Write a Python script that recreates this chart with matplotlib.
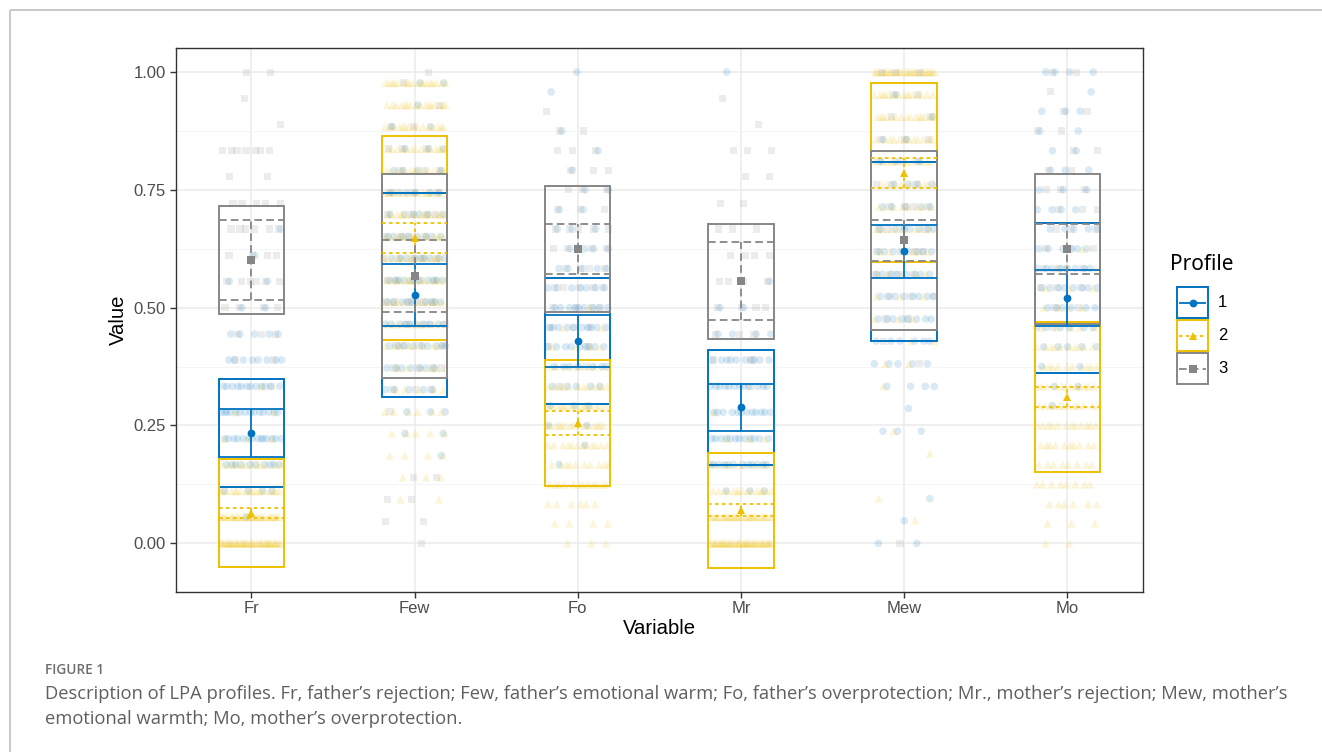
import matplotlib
matplotlib.use("Agg")
import matplotlib.pyplot as plt
from matplotlib.patches import Rectangle
from matplotlib.ticker import FixedLocator

# ---------------- data ----------------
VARIABLES = ["Fr", "Few", "Fo", "Mr", "Mew", "Mo"]
PROFILES = ["1", "2", "3"]

# profile means per variable
MEAN_1 = [0.234, 0.527, 0.429, 0.289, 0.620, 0.520]
MEAN_2 = [0.064, 0.648, 0.255, 0.070, 0.786, 0.310]
MEAN_3 = [0.601, 0.567, 0.624, 0.556, 0.643, 0.624]
# box half-height (SD) per variable
SD = [0.114, 0.217, 0.134, 0.122, 0.190, 0.159]
# inner interval half-width per profile
CI_1 = [0.051, 0.065, 0.055, 0.050, 0.056, 0.059]
CI_2 = [0.010, 0.032, 0.025, 0.013, 0.032, 0.021]
CI_3 = [0.085, 0.076, 0.053, 0.083, 0.043, 0.053]

# observed score levels per variable
LEVELS_FR = [0.000, 0.056, 0.111, 0.167, 0.222, 0.278, 0.333, 0.389, 0.444, 0.500,
             0.556, 0.611, 0.667, 0.722, 0.778, 0.833, 0.889, 0.944, 1.000]
LEVELS_FEW = [0.000, 0.047, 0.093, 0.140, 0.186, 0.233, 0.279, 0.326, 0.372, 0.419,
              0.465, 0.512, 0.558, 0.605, 0.651, 0.698, 0.744, 0.791, 0.837, 0.884,
              0.930, 0.977, 1.000]
LEVELS_FO = [0.000, 0.042, 0.083, 0.125, 0.167, 0.208, 0.250, 0.292, 0.333, 0.375,
             0.417, 0.458, 0.500, 0.542, 0.583, 0.625, 0.667, 0.708, 0.750, 0.792,
             0.833, 0.875, 0.917, 0.958, 1.000]
LEVELS_MR = [0.000, 0.056, 0.111, 0.167, 0.222, 0.278, 0.333, 0.389, 0.444, 0.500,
             0.556, 0.611, 0.667, 0.722, 0.778, 0.833, 0.889, 0.944, 1.000]
LEVELS_MEW = [0.000, 0.048, 0.095, 0.143, 0.190, 0.238, 0.286, 0.333, 0.381, 0.429,
              0.476, 0.524, 0.571, 0.619, 0.667, 0.714, 0.762, 0.810, 0.857, 0.905,
              0.952, 1.000]
LEVELS_MO = [0.000, 0.042, 0.083, 0.125, 0.167, 0.208, 0.250, 0.292, 0.333, 0.375,
             0.417, 0.458, 0.500, 0.542, 0.583, 0.625, 0.667, 0.708, 0.750, 0.792,
             0.833, 0.875, 0.917, 0.958, 1.000]

# number of respondents at each level (estimated), per profile
FR_P1 = [0, 1, 4, 10, 14, 14, 12, 8, 5, 2, 2, 1, 1, 0, 0, 0, 0, 0, 0]
FR_P2 = [45, 30, 18, 12, 3, 2, 1, 0, 0, 0, 0, 0, 0, 0, 0, 0, 0, 0, 0]
FR_P3 = [0, 0, 0, 0, 0, 0, 1, 2, 3, 4, 6, 4, 6, 5, 2, 7, 1, 1, 2]

FEW_P1 = [0, 0, 0, 0, 1, 2, 3, 5, 7, 9, 10, 10, 10, 9, 8, 6, 5, 4, 3, 2, 1, 2, 0]
FEW_P2 = [0, 0, 2, 3, 4, 5, 6, 5, 6, 8, 10, 12, 14, 15, 16, 16, 15, 14, 14, 15, 16, 18, 0]
FEW_P3 = [1, 2, 2, 2, 0, 0, 1, 3, 4, 4, 4, 5, 5, 5, 4, 4, 4, 3, 3, 2, 1, 1, 1]

FO_P1 = [0, 0, 0, 0, 1, 1, 2, 3, 5, 7, 9, 10, 9, 7, 5, 4, 3, 2, 2, 1, 1, 1, 0, 1, 1]
FO_P2 = [3, 4, 6, 12, 10, 12, 15, 15, 12, 8, 4, 2, 1, 0, 0, 0, 0, 0, 0, 0, 0, 0, 0, 0, 0]
FO_P3 = [0, 0, 0, 0, 0, 0, 0, 0, 1, 1, 2, 3, 4, 5, 4, 4, 5, 3, 3, 3, 3, 2, 1, 0, 0]

MR_P1 = [0, 0, 3, 12, 12, 12, 12, 10, 4, 2, 1, 0, 0, 0, 0, 0, 0, 0, 1]
MR_P2 = [45, 30, 15, 8, 3, 1, 0, 0, 0, 0, 0, 0, 0, 0, 0, 0, 0, 0, 0]
MR_P3 = [0, 0, 0, 0, 0, 0, 1, 2, 3, 4, 4, 4, 3, 2, 2, 3, 1, 1, 0]

MEW_P1 = [2, 1, 1, 0, 0, 3, 1, 4, 5, 6, 8, 8, 8, 8, 7, 5, 4, 3, 2, 1, 1, 0]
MEW_P2 = [0, 1, 1, 0, 1, 1, 0, 1, 2, 2, 3, 3, 5, 6, 8, 8, 10, 10, 12, 15, 15, 30]
MEW_P3 = [1, 0, 0, 0, 0, 0, 0, 0, 1, 1, 2, 3, 4, 4, 4, 4, 3, 3, 3, 2, 2, 3]

MO_P1 = [0, 0, 0, 0, 0, 0, 0, 1, 2, 2, 5, 6, 6, 8, 8, 6, 5, 4, 3, 3, 2, 2, 3, 1, 4]
MO_P2 = [2, 3, 6, 8, 8, 10, 12, 12, 12, 10, 10, 5, 4, 3, 2, 1, 0, 0, 0, 0, 0, 0, 0, 0, 0]
MO_P3 = [0, 0, 0, 0, 0, 0, 0, 0, 0, 0, 0, 1, 2, 3, 4, 3, 3, 3, 3, 2, 2, 2, 2, 1, 2]

Y_TICKS = [0.00, 0.25, 0.50, 0.75, 1.00]
Y_TICK_LABELS = ["0.00", "0.25", "0.50", "0.75", "1.00"]

CAPTION_LABEL = "FIGURE 1"
CAPTION_LINE_1 = ("Description of LPA profiles. Fr, father\u2019s rejection; Few, father\u2019s emotional warm; "
                  "Fo, father\u2019s overprotection; Mr., mother\u2019s rejection; Mew, mother\u2019s")
CAPTION_LINE_2 = "emotional warmth; Mo, mother\u2019s overprotection."

# ---------------- assemble ----------------
MEANS = [MEAN_1, MEAN_2, MEAN_3]
CIS = [CI_1, CI_2, CI_3]
LEVELS = [LEVELS_FR, LEVELS_FEW, LEVELS_FO, LEVELS_MR, LEVELS_MEW, LEVELS_MO]
COUNTS = [
    [FR_P1, FEW_P1, FO_P1, MR_P1, MEW_P1, MO_P1],
    [FR_P2, FEW_P2, FO_P2, MR_P2, MEW_P2, MO_P2],
    [FR_P3, FEW_P3, FO_P3, MR_P3, MEW_P3, MO_P3],
]

COLORS = ["#0073C2", "#EFC000", "#868686"]
MARKERS = ["o", "^", "s"]
JIT_SIZES = [30, 36, 26]
plt.rcParams["lines.scale_dashes"] = False
DASHES = [None, (2.6, 2.4), (5.5, 3.0)]

W, H, DPI = 1322, 752, 100
fig = plt.figure(figsize=(W / DPI, H / DPI), dpi=DPI)
fig.patch.set_facecolor("white")

px_l, px_r, px_t, px_b = 175.5, 1143, 48, 591.7
ax = fig.add_axes([px_l / W, 1 - px_b / H, (px_r - px_l) / W, (px_b - px_t) / H])
ax.set_xlim(0.535, 6.464)
ax.set_ylim(-0.1027, 1.0511)
ax.set_facecolor("white")

FONT = ["Liberation Sans", "DejaVu Sans"]

# grid
ax.yaxis.set_major_locator(FixedLocator(Y_TICKS))
ax.yaxis.set_minor_locator(FixedLocator([0.125, 0.375, 0.625, 0.875]))
ax.set_yticklabels(Y_TICK_LABELS)
xs = list(range(1, len(VARIABLES) + 1))
ax.set_xticks(xs)
ax.set_xticklabels(VARIABLES)
ax.grid(True, which="major", color="#EBEBEB", lw=1.1, zorder=0)
ax.grid(True, which="minor", axis="y", color="#F4F4F4", lw=0.6, zorder=0)
ax.set_axisbelow(True)
ax.tick_params(axis="both", which="major", direction="out", length=4, width=1.0,
               color="#333333", labelcolor="#4D4D4D", labelsize=12, pad=3)
ax.tick_params(axis="y", which="minor", length=0)
for lab in ax.get_xticklabels() + ax.get_yticklabels():
    lab.set_fontfamily(FONT)
for sp in ax.spines.values():
    sp.set_color("#333333")
    sp.set_linewidth(1.0)
ax.set_xlabel("Variable", fontsize=14.6, family=FONT, color="black", labelpad=2)
ax.set_ylabel("Value", fontsize=14.6, family=FONT, color="black", labelpad=4)

# jittered raw points (deterministic spread within the band)
GOLD = 0.6180339887
for p in range(3):
    jx, jy = [], []
    for vi in range(len(VARIABLES)):
        for li, (lev, cnt) in enumerate(zip(LEVELS[vi], COUNTS[p][vi])):
            for k in range(cnt):
                frac = (k * GOLD + li * 0.4142 + vi * 0.2718 + p * 0.1732) % 1.0
                jx.append(xs[vi] + (frac - 0.5) * 0.38)
                jy.append(lev)
    ax.scatter(jx, jy, s=JIT_SIZES[p], marker=MARKERS[p], color=COLORS[p],
               alpha=0.15, edgecolors="none", zorder=2)

HALF = 0.2
# boxes (mean +/- SD)
for p in range(3):
    for vi in range(len(VARIABLES)):
        m = MEANS[p][vi]
        ax.add_patch(Rectangle((xs[vi] - HALF, m - SD[vi]), 2 * HALF, 2 * SD[vi],
                               fill=False, ec=COLORS[p], lw=1.4, zorder=3,
                               joinstyle="miter"))
# inner intervals
for p in range(3):
    for vi in range(len(VARIABLES)):
        m, c, x = MEANS[p][vi], CIS[p][vi], xs[vi]
        kw = dict(color=COLORS[p], lw=1.3, zorder=4, solid_capstyle="butt",
                  dash_capstyle="butt")
        segs = [([x - HALF, x + HALF], [m - c, m - c]),
                ([x - HALF, x + HALF], [m + c, m + c]),
                ([x, x], [m - c, m + c])]
        for sx, sy in segs:
            ln, = ax.plot(sx, sy, **kw)
            if DASHES[p] is not None:
                ln.set_dashes(DASHES[p])
# means
for p in range(3):
    ax.plot(xs, MEANS[p], linestyle="none", marker=MARKERS[p], color=COLORS[p],
            markersize=5.6 if p != 1 else 6.4, markeredgewidth=0, zorder=5)

# ---------------- overlay: legend, caption, border ----------------
ov = fig.add_axes([0, 0, 1, 1], facecolor="none")
ov.set_xlim(0, W)
ov.set_ylim(H, 0)
ov.axis("off")

ov.add_patch(Rectangle((9.5, 9.5), W, H, fill=False, ec="#C4C4C4", lw=1.3))

ov.text(1170, 265, "Profile", fontsize=15, family=["Noto Sans", "DejaVu Sans"],
        color="black", va="center", ha="left")
key_x0, key_w = 1177, 31
for p in range(3):
    y0 = 287 + p * 33
    ov.add_patch(Rectangle((key_x0, y0), key_w, key_w, fill=False, ec=COLORS[p], lw=1.4))
    ln, = ov.plot([key_x0 + 2, key_x0 + key_w - 2], [y0 + key_w / 2] * 2,
                  color=COLORS[p], lw=1.3, solid_capstyle="butt")
    if DASHES[p] is not None:
        ln.set_dashes(DASHES[p])
    ov.plot([key_x0 + key_w / 2], [y0 + key_w / 2], marker=MARKERS[p], color=COLORS[p],
            markersize=5.6 if p != 1 else 6.4, markeredgewidth=0)
    ov.text(1218, y0 + key_w / 2, PROFILES[p], fontsize=12, family=FONT,
            color="black", va="center", ha="left")

CAP_FONT = ["Open Sans", "DejaVu Sans"]
ov.text(45, 670, CAPTION_LABEL, fontsize=9.8, family=CAP_FONT, color="#6E6E6E",
        va="center", ha="left", fontweight="semibold")
ov.text(45, 694, CAPTION_LINE_1, fontsize=13.2, family=CAP_FONT, color="#5F5F5F",
        va="center", ha="left")
ov.text(45, 719, CAPTION_LINE_2, fontsize=13.2, family=CAP_FONT, color="#5F5F5F",
        va="center", ha="left")

fig.savefig("out.png", dpi=DPI, facecolor="white")
